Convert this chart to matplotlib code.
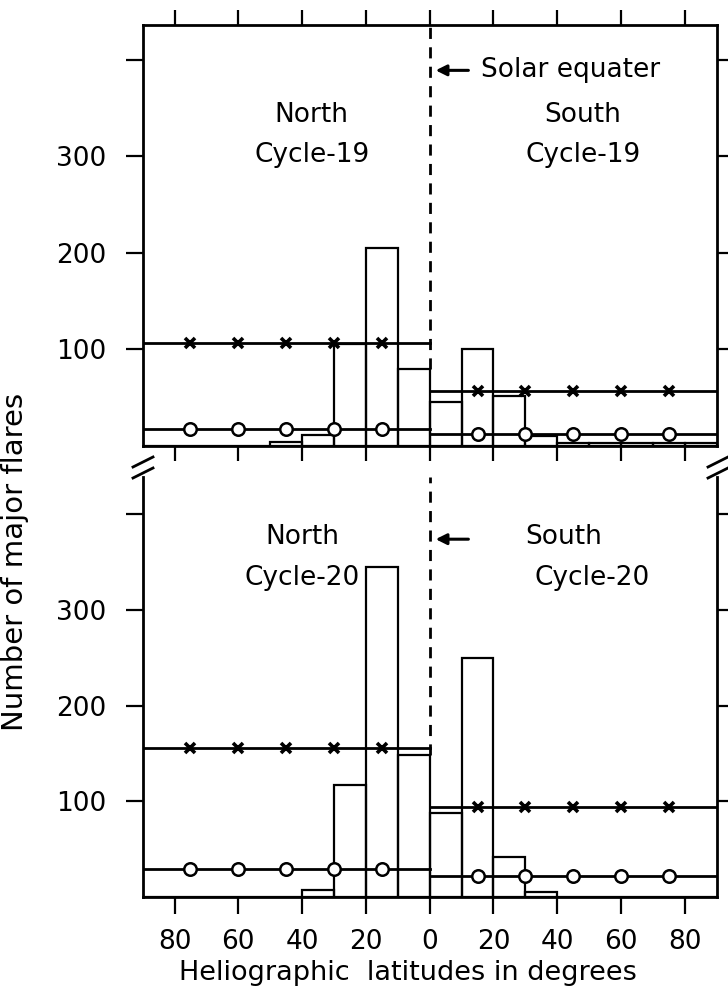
import numpy as np
import matplotlib.pyplot as plt
from matplotlib.lines import Line2D

# 10-degree latitude bins (lower edge, degrees away from the equator)
lat_bins = [0, 10, 20, 30, 40, 50, 60, 70, 80]
bin_width = 10

# number of major flares per bin
north_19 = [80, 205, 105, 11, 4, 0, 0, 0, 0]
south_19 = [45, 100, 52, 10, 3, 3, 3, 3, 3]
north_20 = [148, 345, 117, 7, 0, 0, 0, 0, 0]
south_20 = [88, 250, 42, 5, 0, 0, 0, 0, 0]

# levels drawn with crosses and with circles (cycle 19, cycle 20)
cross_north = [106, 156]
cross_south = [57, 94]
circle_north = [17, 29]
circle_south = [12, 22]
marker_lats = [15, 30, 45, 60, 75]

cycles = ["19", "20"]
x_ticks = [-80, -60, -40, -20, 0, 20, 40, 60, 80]
y_ticks = [100, 200, 300, 400]
y_ticklabels = ["100", "200", "300", ""]

FS = 19
LW = 1.6
plt.rcParams["font.family"] = ["DejaVu Sans"]

fig = plt.figure(figsize=(7.28, 9.89), dpi=100)
W, H = 728, 989


def rect(x0, y0, x1, y1):
    # pixel box -> figure fraction
    return [x0 / W, 1 - y1 / H, (x1 - x0) / W, (y1 - y0) / H]


ax_top = fig.add_axes(rect(142.6, 25, 716.8, 445.7))
ax_bot = fig.add_axes(rect(142.6, 477, 716.8, 897))


def draw_panel(ax, north, south, cn, cs, on, os_, ytop):
    lat = np.array(lat_bins)
    ax.bar(-lat, north, width=-bin_width, align="edge", fill=False,
           edgecolor="k", lw=LW, zorder=2)
    ax.bar(lat, south, width=bin_width, align="edge", fill=False,
           edgecolor="k", lw=LW, zorder=2)

    m = np.array(marker_lats)
    # crosses
    ax.plot([-90, 0], [cn, cn], color="k", lw=LW + 0.4, zorder=3)
    ax.plot(-m, [cn] * len(m), ls="none", marker="x", ms=7, mew=2.6,
            color="k", zorder=4)
    ax.plot([0, 90], [cs, cs], color="k", lw=LW + 0.4, zorder=3)
    ax.plot(m, [cs] * len(m), ls="none", marker="x", ms=7, mew=2.6,
            color="k", zorder=4)
    # circles
    ax.plot([-90, 0], [on, on], color="k", lw=LW + 0.4, zorder=3)
    ax.plot(-m, [on] * len(m), ls="none", marker="o", ms=9, mew=1.8,
            mfc="white", mec="k", zorder=5)
    ax.plot([0, 90], [os_, os_], color="k", lw=LW + 0.4, zorder=3)
    ax.plot(m, [os_] * len(m), ls="none", marker="o", ms=9, mew=1.8,
            mfc="white", mec="k", zorder=5)

    # solar equator
    ax.vlines(0, max(north[0], south[0]), ytop, colors="k", lw=LW + 0.4,
              linestyles=(0, (4, 3)), zorder=2)

    ax.set_xlim(-90, 90)
    ax.set_ylim(0, ytop)
    ax.set_xticks(x_ticks)
    ax.set_xticklabels([str(abs(t)) for t in x_ticks], fontsize=FS)
    ax.set_yticks(y_ticks)
    ax.set_yticklabels(y_ticklabels, fontsize=FS)
    ax.tick_params(axis="y", which="both", left=True, right=True,
                   direction="out", length=12, width=LW, pad=14)
    for s in ax.spines.values():
        s.set_linewidth(LW + 0.4)


draw_panel(ax_top, north_19, south_19, cross_north[0], cross_south[0],
           circle_north[0], circle_south[0], 436)
draw_panel(ax_bot, north_20, south_20, cross_north[1], cross_south[1],
           circle_north[1], circle_south[1], 439)

ax_top.tick_params(axis="x", top=True, bottom=True, labelbottom=False,
                   direction="out", length=11, width=LW)
ax_bot.tick_params(axis="x", top=False, bottom=True, direction="out",
                   length=12, width=LW, pad=11)
ax_bot.spines["top"].set_visible(False)

# labels inside the panels
txt = dict(fontsize=FS, ha="center", va="center")
ax_top.text(-37, 343, "North", **txt)
ax_top.text(-37, 301, "Cycle-" + cycles[0], **txt)
ax_top.text(48, 343, "South", **txt)
ax_top.text(48, 301, "Cycle-" + cycles[0], **txt)
ax_top.annotate("", xy=(1, 389), xytext=(13, 389),
                arrowprops=dict(arrowstyle="-|>", color="k", lw=2.2,
                                mutation_scale=16))
ax_top.text(16, 389, "Solar equater", fontsize=FS, ha="left", va="center")

ax_bot.text(-40, 376, "North", **txt)
ax_bot.text(-40, 333, "Cycle-" + cycles[1], **txt)
ax_bot.text(42, 376, "South", **txt)
ax_bot.text(51, 333, "Cycle-" + cycles[1], **txt)
ax_bot.annotate("", xy=(1, 374), xytext=(13, 374),
                arrowprops=dict(arrowstyle="-|>", color="k", lw=2.2,
                                mutation_scale=16))

# axis break marks
for px in (143, 718):
    for py in (462, 473):
        fig.add_artist(Line2D([(px - 10) / W, (px + 10) / W],
                              [1 - (py + 5) / H, 1 - (py - 5) / H],
                              color="k", lw=2))

fig.text(15 / W, 1 - 562 / H, "Number of major flares", rotation=90,
         fontsize=21, ha="center", va="center")
fig.text(408 / W, 1 - 973 / H, "Heliographic  latitudes in degrees",
         fontsize=19.5, ha="center", va="center")

fig.savefig("out.png", dpi=100)
